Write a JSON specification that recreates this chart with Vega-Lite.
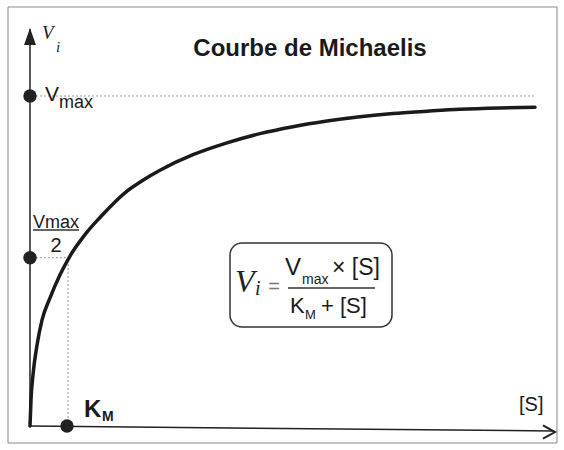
{
  "$schema": "https://vega.github.io/schema/vega-lite/v6.json",
  "width": 564,
  "height": 450,
  "autosize": {"type": "fit", "contains": "padding"},
  "padding": 0,
  "background": "white",
  "config": {"view": {"stroke": null}},
  "encoding": {
    "x": {"field": "S", "type": "quantitative", "scale": {"domain": [-0.8108, 14.4324], "nice": false, "zero": false}, "axis": null},
    "y": {"field": "V", "type": "quantitative", "scale": {"domain": [-0.0727, 1.2909], "nice": false, "zero": false}, "axis": null}
  },
  "layer": [
    {
      "data": {"values": [{"S": -0.5946, "S2": 14.2432, "V": -0.0515, "V2": 1.2697}]},
      "mark": {"type": "rect", "filled": false, "stroke": "#888", "strokeWidth": 1},
      "encoding": {"x2": {"field": "S2"}, "y2": {"field": "V2"}}
    },
    {
      "data": {"values": [{"S": 5.4054, "S2": 9.7838, "V": 0.3, "V2": 0.5545}]},
      "mark": {"type": "rect", "filled": false, "stroke": "#333", "strokeWidth": 1.5, "cornerRadius": 12},
      "encoding": {"x2": {"field": "S2"}, "y2": {"field": "V2"}}
    },
    {
      "data": {"values": [
        {"S": 0.162, "S2": 13.65, "V": 1, "V2": 1},
        {"S": 0.16, "S2": 1.03, "V": 0.51, "V2": 0.51},
        {"S": 1.03, "S2": 1.03, "V": 0, "V2": 0.51}
      ]},
      "mark": {"type": "rule", "stroke": "#999", "strokeWidth": 1, "strokeDash": [2, 2]},
      "encoding": {"x2": {"field": "S2"}, "y2": {"field": "V2"}}
    },
    {
      "data": {"values": [
        {"S": 0, "S2": 0, "V": 0, "V2": 1.203},
        {"S": 0, "S2": 14.135, "V": 0, "V2": -0.0152}
      ]},
      "mark": {"type": "rule", "stroke": "#222", "strokeWidth": 1.5},
      "encoding": {"x2": {"field": "S2"}, "y2": {"field": "V2"}}
    },
    {
      "data": {"values": [
        {"S": 0.081, "S2": 1.324, "V": 0.594, "V2": 0.594},
        {"S": 6.973, "S2": 9.324, "V": 0.418, "V2": 0.418}
      ]},
      "mark": {"type": "rule", "stroke": "#333", "strokeWidth": 1.5},
      "encoding": {"x2": {"field": "S2"}, "y2": {"field": "V2"}}
    },
    {
      "data": {"values": [
        {"S": 0, "V": 0},
        {"S": 0.027, "V": 0.079},
        {"S": 0.081, "V": 0.155},
        {"S": 0.189, "V": 0.245},
        {"S": 0.324, "V": 0.321},
        {"S": 0.541, "V": 0.388},
        {"S": 0.811, "V": 0.458},
        {"S": 1.081, "V": 0.515},
        {"S": 1.486, "V": 0.58},
        {"S": 1.892, "V": 0.632},
        {"S": 2.622, "V": 0.712},
        {"S": 3.054, "V": 0.745},
        {"S": 3.514, "V": 0.775},
        {"S": 4.405, "V": 0.822},
        {"S": 5.324, "V": 0.858},
        {"S": 6.216, "V": 0.886},
        {"S": 7.108, "V": 0.907},
        {"S": 8.027, "V": 0.924},
        {"S": 8.919, "V": 0.937},
        {"S": 9.811, "V": 0.947},
        {"S": 10.73, "V": 0.954},
        {"S": 11.622, "V": 0.96},
        {"S": 12.703, "V": 0.964},
        {"S": 13.649, "V": 0.966}
      ]},
      "mark": {"type": "line", "interpolate": "monotone", "stroke": "#1a1a1a", "strokeWidth": 3.5, "strokeCap": "round"},
      "encoding": {"order": {"field": "S", "type": "quantitative"}}
    },
    {
      "data": {"values": [{"S": 0, "V": 1}, {"S": 0, "V": 0.51}, {"S": 1, "V": 0}]},
      "mark": {"type": "point", "shape": "circle", "filled": true, "color": "#222", "opacity": 1, "size": 180}
    },
    {
      "data": {"values": [{"S": 0, "V": 1.1545}]},
      "mark": {"type": "point", "shape": "M0,-1L-0.35,0L0.35,0Z", "filled": true, "color": "#222", "opacity": 1, "size": 1156}
    },
    {
      "data": {"values": [{"S": 14.189, "V": -0.0182}]},
      "mark": {"type": "point", "shape": "M-1,-0.55L0,0L-1,0.55", "filled": false, "stroke": "#222", "strokeWidth": 2, "opacity": 1, "size": 576}
    },
    {
      "data": {"values": [{"S": 7.568, "V": 1.1212, "t": "Courbe de Michaelis"}]},
      "mark": {"type": "text", "font": "Liberation Sans", "fontSize": 24, "fontWeight": "bold", "align": "center", "baseline": "alphabetic", "color": "#1a1a1a"},
      "encoding": {"text": {"field": "t"}}
    },
    {
      "data": {"values": [{"S": 0.3243, "V": 1.1727, "t": "V"}]},
      "mark": {"type": "text", "font": "Liberation Serif", "fontStyle": "italic", "fontSize": 19, "align": "left", "baseline": "alphabetic", "color": "#222"},
      "encoding": {"text": {"field": "t"}}
    },
    {
      "data": {"values": [{"S": 0.7027, "V": 1.1333, "t": "i"}]},
      "mark": {"type": "text", "font": "Liberation Serif", "fontStyle": "italic", "fontSize": 15, "align": "left", "baseline": "alphabetic", "color": "#222"},
      "encoding": {"text": {"field": "t"}}
    },
    {
      "data": {"values": [{"S": 0.4054, "V": 0.9848, "t": "V"}]},
      "mark": {"type": "text", "font": "Liberation Sans", "fontSize": 21, "align": "left", "baseline": "alphabetic", "color": "#1a1a1a"},
      "encoding": {"text": {"field": "t"}}
    },
    {
      "data": {"values": [{"S": 0.7838, "V": 0.9636, "t": "max"}]},
      "mark": {"type": "text", "font": "Liberation Sans", "fontSize": 18, "align": "left", "baseline": "alphabetic", "color": "#1a1a1a"},
      "encoding": {"text": {"field": "t"}}
    },
    {
      "data": {"values": [{"S": 0.7027, "V": 0.6, "t": "Vmax"}]},
      "mark": {"type": "text", "font": "Liberation Sans", "fontSize": 18, "align": "center", "baseline": "alphabetic", "color": "#1a1a1a"},
      "encoding": {"text": {"field": "t"}}
    },
    {
      "data": {"values": [{"S": 0.7027, "V": 0.5273, "t": "2"}]},
      "mark": {"type": "text", "font": "Liberation Sans", "fontSize": 20, "align": "center", "baseline": "alphabetic", "color": "#1a1a1a"},
      "encoding": {"text": {"field": "t"}}
    },
    {
      "data": {"values": [{"S": 1.4595, "V": 0.0273, "t": "K"}]},
      "mark": {"type": "text", "font": "Liberation Sans", "fontSize": 24, "fontWeight": "bold", "align": "left", "baseline": "alphabetic", "color": "#1a1a1a"},
      "encoding": {"text": {"field": "t"}}
    },
    {
      "data": {"values": [{"S": 1.946, "V": 0.0152, "t": "M"}]},
      "mark": {"type": "text", "font": "Liberation Sans", "fontSize": 14, "fontWeight": "bold", "align": "left", "baseline": "alphabetic", "color": "#1a1a1a"},
      "encoding": {"text": {"field": "t"}}
    },
    {
      "data": {"values": [{"S": 13.216, "V": 0.0455, "t": "[S]"}]},
      "mark": {"type": "text", "font": "Liberation Sans", "fontSize": 20, "align": "left", "baseline": "alphabetic", "color": "#1a1a1a"},
      "encoding": {"text": {"field": "t"}}
    },
    {
      "data": {"values": [{"S": 5.5405, "V": 0.4061, "t": "V"}]},
      "mark": {"type": "text", "font": "Liberation Serif", "fontStyle": "italic", "fontSize": 32, "align": "left", "baseline": "alphabetic", "color": "#222"},
      "encoding": {"text": {"field": "t"}}
    },
    {
      "data": {"values": [{"S": 6.08, "V": 0.397, "t": "i"}]},
      "mark": {"type": "text", "font": "Liberation Serif", "fontStyle": "italic", "fontSize": 20, "align": "left", "baseline": "alphabetic", "color": "#222"},
      "encoding": {"text": {"field": "t"}}
    },
    {
      "data": {"values": [{"S": 6.595, "V": 0.403, "t": "="}]},
      "mark": {"type": "text", "font": "Liberation Sans", "fontSize": 20, "align": "center", "baseline": "alphabetic", "color": "#777"},
      "encoding": {"text": {"field": "t"}}
    },
    {
      "data": {"values": [{"S": 6.892, "V": 0.4576, "t": "V"}]},
      "mark": {"type": "text", "font": "Liberation Sans", "fontSize": 24, "align": "left", "baseline": "alphabetic", "color": "#1a1a1a"},
      "encoding": {"text": {"field": "t"}}
    },
    {
      "data": {"values": [{"S": 7.351, "V": 0.4303, "t": "max"}]},
      "mark": {"type": "text", "font": "Liberation Sans", "fontSize": 14, "align": "left", "baseline": "alphabetic", "color": "#1a1a1a"},
      "encoding": {"text": {"field": "t"}}
    },
    {
      "data": {"values": [{"S": 8.162, "V": 0.4576, "t": "× [S]"}]},
      "mark": {"type": "text", "font": "Liberation Sans", "fontSize": 23, "align": "left", "baseline": "alphabetic", "color": "#1a1a1a"},
      "encoding": {"text": {"field": "t"}}
    },
    {
      "data": {"values": [{"S": 7.027, "V": 0.3424, "t": "K"}]},
      "mark": {"type": "text", "font": "Liberation Sans", "fontSize": 22, "align": "left", "baseline": "alphabetic", "color": "#1a1a1a"},
      "encoding": {"text": {"field": "t"}}
    },
    {
      "data": {"values": [{"S": 7.432, "V": 0.3242, "t": "M"}]},
      "mark": {"type": "text", "font": "Liberation Sans", "fontSize": 13, "align": "left", "baseline": "alphabetic", "color": "#1a1a1a"},
      "encoding": {"text": {"field": "t"}}
    },
    {
      "data": {"values": [{"S": 7.865, "V": 0.3424, "t": "+ [S]"}]},
      "mark": {"type": "text", "font": "Liberation Sans", "fontSize": 22, "align": "left", "baseline": "alphabetic", "color": "#1a1a1a"},
      "encoding": {"text": {"field": "t"}}
    }
  ]
}
